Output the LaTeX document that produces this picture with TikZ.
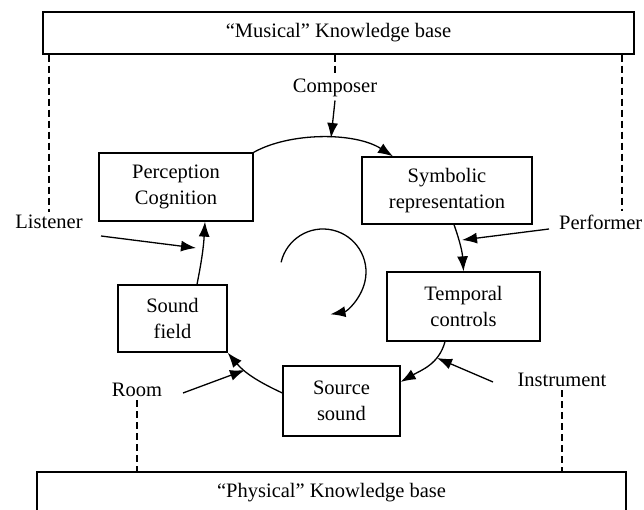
\documentclass[tikz,border=0pt]{standalone}
\usepackage{fontspec}
\setmainfont{Liberation Serif}
\usetikzlibrary{arrows.meta,positioning,calc}

\begin{document}
\begin{tikzpicture}[x=1pt, y=1pt,
    box/.style={draw, line width=1.3pt, align=center, inner sep=0pt},
    flow/.style={line width=1.3pt, -{Latex[length=15pt, width=11pt]}},
    dashline/.style={line width=1.2pt, dash pattern=on 7pt off 4pt},
    font=\fontsize{20.5}{26}\selectfont]
    \useasboundingbox (0, 0) rectangle (644, 510);

    % knowledge bases
    \node[box, minimum width=591pt, minimum height=42pt] (musical) at (338.5, 477) {“Musical” Knowledge base};
    \node[box, minimum width=589pt, minimum height=42pt] (physical) at (331.5, 17) {“Physical” Knowledge base};

    % the loop
    \node[box, minimum width=154pt, minimum height=68pt] (perc) at (176, 323) {Perception\\Cognition};
    \node[box, minimum width=170pt, minimum height=67pt] (symb) at (447, 319.5) {Symbolic\\representation};
    \node[box, minimum width=153pt, minimum height=69pt] (tempo) at (463.5, 203.5) {Temporal\\controls};
    \node[box, minimum width=117pt, minimum height=70pt] (source) at (341.5, 109) {Source\\sound};
    \node[box, minimum width=109pt, minimum height=67pt] (sfield) at (172.5, 191.5) {Sound\\field};

    % actors
    \node (composer) at (335, 422) {Composer};
    \node (listener) at (49, 288) {Listener};
    \node[anchor=west, inner sep=0pt] (performer) at (559, 288) {Performer};
    \node (room) at (137, 120) {Room};
    \node (instrument) at (562, 130) {Instrument};

    \coordinate (ctop) at (331, 372);
    \coordinate (lstart) at (101, 274);
    \coordinate (lend) at (196, 262);
    \coordinate (pstart) at (549, 281);
    \coordinate (pend) at (462, 270);
    \coordinate (istart) at (493, 128);
    \coordinate (iend) at (437, 152);
    \coordinate (rstart) at (183, 117);
    \coordinate (rend) at (245, 140);
    \coordinate (pfdash) at ([xshift=63pt, yshift=3pt]performer.north west);

    % dashed links to the knowledge bases
    \draw[dashline] (listener.north |- musical.south) -- (listener.north);
    \draw[dashline] (pfdash |- musical.south) -- (pfdash);
    \draw[dashline] (composer.north |- musical.south) -- (composer.north);
    \draw[dashline] (room.south) -- (room.south |- physical.north);
    \draw[dashline] (instrument.south) -- (instrument.south |- physical.north);

    % flow round the loop
    \draw[flow] (perc.north east) .. controls (290, 378) and (355, 378) .. ([xshift=-54pt]symb.north);
    \draw[flow] ([xshift=7pt]symb.south) to[bend left=8] (tempo.north);
    \draw[flow] ([xshift=-18.5pt]tempo.south) to[out=-105, in=30] ([yshift=19pt]source.east);
    \draw[flow] ([yshift=8pt]source.west) to[out=155, in=-50] (sfield.south east);
    \draw[flow] ([xshift=24.5pt]sfield.north) to[bend right=4] ([xshift=29pt]perc.south);

    % actor inputs
    \draw[flow] (composer.south) -- (ctop);
    \draw[flow] (lstart) -- (lend);
    \draw[flow] (pstart) -- (pend);
    \draw[flow] (istart) -- (iend);
    \draw[flow] (rstart) -- (rend);

    % turning arrow
    \draw[flow] (323, 238) ++(167:43) arc[start angle=167, end angle=-80, radius=43];
\end{tikzpicture}
\end{document}
